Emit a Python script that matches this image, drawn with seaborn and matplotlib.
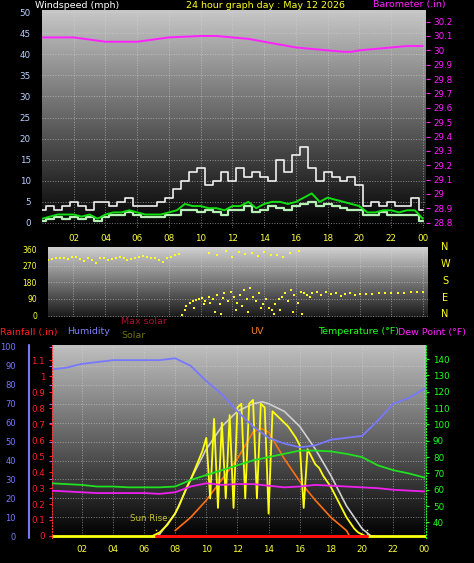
import numpy as np
import pandas as pd
import matplotlib
matplotlib.use("Agg")
import matplotlib.pyplot as plt
import seaborn as sns

sns.set_style("dark")
plt.rcParams['font.family'] = ['DejaVu Sans']

# ---------------- data ----------------
wind_hours = np.arange(0, 24.01, 0.5)
gust = [3,4,3,4,5,4,3,5,5,4,5,6,4,4,4,5,6,8,10,12,13,9,10,12,10,13,11,12,11,10,15,12,16,18,13,10,12,11,10,11,9,4,5,4,5,4,4,6,3]
avg_wind = [1,1.5,2,2,2,1.5,2,1,2,2.5,2.5,3,2.5,2,2,2,2.5,3,4.5,4,4,3.5,3.5,3,4,4,5,3.5,4.5,5,5,4.5,5,6,7,5,6,5.5,5,4.5,4,2.5,2.5,3,3,2.5,3,3,1]
wind = [0.5,1,1.5,1,1.5,1,1.5,0.5,1.5,2,2,2.5,2,1.5,1.5,1.5,2,2,3,3,2.5,3,2.5,2,3,3,4,2.5,3,4,3.5,3,4,4.5,5,4,4.5,4,3.5,3,3,2,2,2.5,2,2,2,2,0.5]

baro_hours = [0,2,4,6,8,10,11,12,13,14,15,16,17,18,19,19.5,20,21,22,23,24]
baro = [30.09,30.09,30.06,30.06,30.09,30.10,30.10,30.09,30.08,30.06,30.04,30.02,30.01,30.00,29.99,29.99,30.00,30.01,30.02,30.03,30.03]

dir_hours_early = list(np.round(np.arange(0.4, 8.9, 0.25), 2))
dir_early = [300,305,310,315,312,308,318,320,305,295,315,300,285,310,315,300,305,310,320,312,300,305,310,318,322,320,315,310,300,290,310,320,330,335]
dir_hours_mid = [8.8,9.0,9.1,9.3,9.5,9.7,9.9,10.1,10.3,10.5,10.6,10.8,11.0,11.2,11.4,11.5,11.7,11.9,12.1,12.3,12.5,12.7,12.9,13.1,13.3,13.5,13.7,13.9,14.1,14.3,14.5,14.7,14.9,15.1,15.3,15.5,15.7,15.9,16.1,16.3,16.5,16.7,16.9,
                 10.5,11.0,11.6,12.0,12.4,12.8,13.2,13.6,14.0,14.4,14.8,15.2,15.6,16.2,
                 9.6,10.2,10.9,11.3,12.2,12.6,13.0,13.8,14.6,15.0,15.8,16.4]
dir_mid = [5,30,50,70,80,85,90,95,80,100,70,90,110,60,95,120,80,130,100,70,110,140,90,150,100,80,120,60,90,40,30,60,90,100,120,80,140,110,70,130,120,110,100,
           340,330,350,320,345,335,340,325,345,330,330,320,340,350,
           40,60,20,10,30,50,20,40,10,30,20,10]
dir_hours_late = [17.0,17.3,17.6,17.9,18.2,18.5,18.8,19.1,19.4,19.7,20.0,20.4,20.8,21.2,21.6,22.0,22.4,22.8,23.2,23.6,24.0]
dir_late = [120,130,110,125,115,120,105,115,120,110,118,115,118,120,120,122,122,124,126,128,125]

hum_hours = np.arange(0, 25)
humidity = [88,89,91,92,93,93,93,93,94,90,82,75,66,58,52,49,47,48,51,52,53,61,70,73,78]
temperature = [64,63.5,63,62,62,61.5,61.5,61.5,62,66,69,72,75,78,80,82,84,84,83.5,82,80,75,72,70,67.5]
dewpoint = [59.5,59,58.5,58,58,58,58,57.5,58.5,62,64,63,63.5,63.5,62.5,61.5,62,63,62.5,62,61.5,61,60,59.5,59]

solar_hours = np.arange(6.5, 20.76, 0.25)
solar = [0,1,2,4,6,9,12,16,
         21,26,30,35,40,45,52,20,
         62,15,60,20,64,15,68,70,
         20,70,72,20,70,68,12,66,
         64,62,60,58,55,52,48,15,
         46,42,38,36,32,29,26,22,
         18,14,10,7,4,2,1,0,
         0,0]
maxsolar_hours = [6.75,7,8,9,10,11,12,13,13.6,14,15,16,17,18,19,20,20.6]
maxsolar = [0,1,12,30,46,58,66,70,71,70,66,58,46,32,16,4,0]
uv_hours = [8,9,10,11,12,13,13.5,14,15,16,17,18,19,19.2]
uv = [3,10,19,30,41,55,57,55,41,29,19,10,3,0]
rain_hours = [6.8, 20.3]
rain = [0, 0]

x_ticks = [2,4,6,8,10,12,14,16,18,20,22,24]
x_labels = ["02","04","06","08","10","12","14","16","18","20","22","00"]

# ---------------- figure ----------------
W, H = 474, 563
fig = plt.figure(figsize=(W/100, H/100), dpi=100, facecolor="black")

def pax(x0, y0, x1, y1):
    return fig.add_axes([x0/W, 1-y1/H, (x1-x0)/W, (y1-y0)/H])

def gradient(ax, top, bottom):
    g = np.linspace(top, bottom, 256).reshape(-1, 1)
    ax.imshow(g, cmap="gray", vmin=0, vmax=1, aspect="auto",
              extent=[0, 1, 0, 1], transform=ax.transAxes, zorder=0)

def style(ax):
    ax.set_facecolor("black")
    for s in ax.spines.values():
        s.set_visible(False)
    ax.grid(True, color="#d8d8d8", linestyle=":", linewidth=0.7, alpha=0.55, zorder=1)
    ax.set_xlabel(""); ax.set_ylabel("")

fs = 6.3

# ---- top panel ----
ax1 = pax(42, 10, 426, 228)
gradient(ax1, 0.78, 0.0)
df_w = pd.DataFrame({"h": wind_hours, "gust": gust, "avg": avg_wind, "wind": wind})
sns.lineplot(data=df_w, x="h", y="wind", ax=ax1, color="#b8f0b8", lw=1.6, drawstyle="steps-mid", zorder=3)
sns.lineplot(data=df_w, x="h", y="gust", ax=ax1, color="#f0f0f0", lw=1.2, drawstyle="steps-mid", zorder=4)
sns.lineplot(data=df_w, x="h", y="avg", ax=ax1, color="#10e010", lw=1.4, zorder=5)
ax1.set_xlim(0, 24.2); ax1.set_ylim(-1.2, 50.5)
ax1.set_yticks(range(0, 51, 5))
ax1.set_xticks(x_ticks); ax1.set_xticklabels(x_labels)
ax1.tick_params(axis="y", colors="#b8d0ff", labelsize=fs, length=0, pad=8)
ax1.tick_params(axis="x", colors="#ffff40", labelsize=fs, length=0, pad=4)
style(ax1)
ax1b = ax1.twinx()
sns.lineplot(x=baro_hours, y=baro, ax=ax1b, color="#ff20ff", lw=1.4, zorder=5)
ax1b.set_ylim(28.763, 30.281)
ax1b.set_yticks(np.round(np.arange(28.8, 30.21, 0.1), 1))
ax1b.set_yticklabels(["28.8","28.9","29","29.1","29.2","29.3","29.4","29.5","29.6","29.7","29.8","29.9","30","30.1","30.2"])
ax1b.tick_params(axis="y", colors="#ff20ff", labelsize=fs, length=3, pad=2)
for s in ax1b.spines.values():
    s.set_visible(False)
ax1b.grid(False)

fig.text(35/W, 1-5/H, "Windspeed (mph)", color="white", fontsize=6.8, va="center")
fig.text(265/W, 1-5/H, "24 hour graph day : May 12 2026", color="#ffff20", fontsize=6.8, va="center", ha="center")
fig.text(446/W, 1-5/H, "Barometer (.in)", color="#ff20ff", fontsize=6.8, va="center", ha="right")

# ---- middle panel ----
ax2 = pax(48, 247, 428, 317)
gradient(ax2, 0.82, 0.1)
df_d = pd.DataFrame({"h": dir_hours_early + dir_hours_mid + dir_hours_late,
                     "d": dir_early + dir_mid + dir_late})
sns.scatterplot(data=df_d, x="h", y="d", ax=ax2, color="#ffff20", s=4, marker="s", linewidth=0, zorder=4)
ax2.set_xlim(0.4, 24.3); ax2.set_ylim(-8, 372)
ax2.set_yticks([0, 90, 180, 270, 360])
ax2.set_xticks(x_ticks); ax2.set_xticklabels([])
ax2.tick_params(axis="y", colors="#ffff40", labelsize=5.5, length=2, pad=6)
ax2.tick_params(axis="x", length=0)
style(ax2)
ax2.set_xlabel(""); ax2.set_ylabel("")
for lab, yy in zip(["N", "W", "S", "E", "N"], [247, 264, 281, 298, 314]):
    fig.text(445/W, 1-yy/H, lab, color="#ffff20", fontsize=7, ha="center", va="center")

# headers
fig.text(0, 1-332/H, "Rainfall (.in)", color="#ff2020", fontsize=6.8, va="center")
fig.text(67/W, 1-332/H, "Humidity", color="#8080ff", fontsize=6.8, va="center")
fig.text(121/W, 1-322/H, "Max solar", color="#b01030", fontsize=6.8, va="center")
fig.text(121/W, 1-336/H, "Solar", color="#707010", fontsize=6.8, va="center")
fig.text(250/W, 1-332/H, "UV", color="#ff8010", fontsize=6.8, va="center")
fig.text(318/W, 1-332/H, "Temperature (°F)", color="#20ff20", fontsize=6.8, va="center")
fig.text(398/W, 1-332/H, "Dew Point (°F)", color="#ff20ff", fontsize=6.8, va="center")

# ---- bottom panel ----
ax3 = pax(52, 345, 426, 538)
gradient(ax3, 0.75, 0.0)
style(ax3)
sns.lineplot(x=maxsolar_hours, y=maxsolar, ax=ax3, color="#d0d0d0", lw=1.2, zorder=4)
sns.lineplot(x=uv_hours, y=uv, ax=ax3, color="#ff7010", lw=1.2, zorder=4)
sns.lineplot(x=solar_hours, y=solar, ax=ax3, color="#ffff10", lw=1.3, zorder=5)
sns.lineplot(x=hum_hours, y=humidity, ax=ax3, color="#7878ff", lw=1.3, zorder=5)
ax3.plot([0.1, 24.1], [0, 0], color="#ffff10", lw=2, zorder=5)
ax3.set_xlim(0.1, 24.1); ax3.set_ylim(-0.9, 101)
ax3.set_xticks(x_ticks); ax3.set_xticklabels(x_labels)
ax3.set_yticks(range(0, 101, 10))
ax3.tick_params(axis="x", colors="#ffff40", labelsize=fs, length=2, pad=3)
ax3.tick_params(axis="y", colors="#7878ff", labelsize=6, length=2, pad=24)
ax3.text(7.5, 7, "Sun Rise", color="#c8c030", fontsize=6.2, ha="right", va="bottom", zorder=6)
ax3.axvline(6.8, ymax=0.05, color="#ffff10", ls=":", lw=1, zorder=6)
ax3.axvline(20.3, ymax=0.05, color="#ffff10", ls=":", lw=1, zorder=6)
ax3.set_xlabel(""); ax3.set_ylabel("")

ax3r = ax3.twinx()
sns.lineplot(x=rain_hours, y=rain, ax=ax3r, color="#ff1010", lw=2.2, zorder=6)
ax3r.set_ylim(-0.013, 1.197)
ax3r.yaxis.tick_left()
ax3r.set_yticks(np.round(np.arange(0, 1.11, 0.1), 1))
ax3r.set_yticklabels(["0","0.1","0.2","0.3","0.4","0.5","0.6","0.7","0.8","0.9","1","1.1"])
ax3r.tick_params(axis="y", colors="#ff2020", labelsize=fs, length=2, pad=3)
for s in ax3r.spines.values():
    s.set_visible(False)
ax3r.spines["left"].set_visible(True)
ax3r.spines["left"].set_color("#ff3030"); ax3r.spines["left"].set_linestyle(":")
ax3r.set_ylabel("")

ax3t = ax3.twinx()
sns.lineplot(x=hum_hours, y=temperature, ax=ax3t, color="#20e020", lw=1.3, zorder=5)
sns.lineplot(x=hum_hours, y=dewpoint, ax=ax3t, color="#ee20ee", lw=1.3, zorder=5)
ax3t.set_ylim(30.5, 148.6)
ax3t.set_yticks(range(40, 141, 10))
ax3t.tick_params(axis="y", colors="#20ff20", labelsize=fs, length=2, pad=3)
for s in ax3t.spines.values():
    s.set_visible(False)
ax3t.spines["right"].set_visible(True)
ax3t.spines["right"].set_color("#20ff20"); ax3t.spines["right"].set_linestyle(":")
ax3t.set_ylabel("")

# blue humidity axis line
fig.add_artist(plt.Line2D([29/W, 29/W], [1-538/H, 1-345/H], color="#7878ff", lw=1.5))

fig.savefig("out.png", dpi=100, facecolor="black")
